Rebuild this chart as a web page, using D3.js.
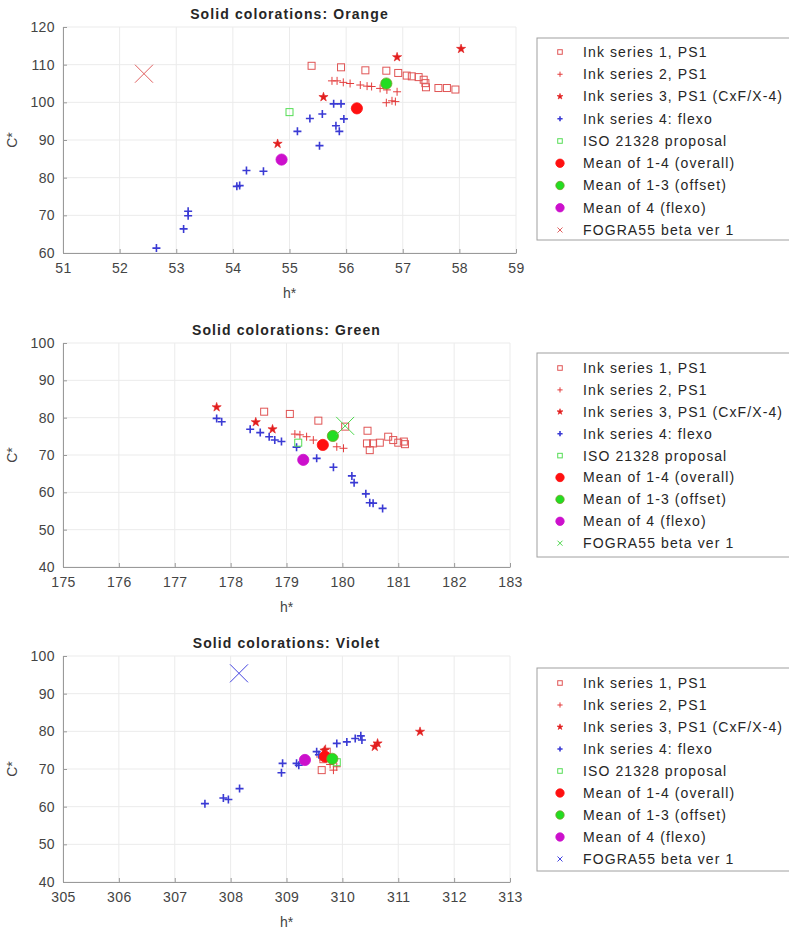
<!DOCTYPE html>
<html>
<head>
<meta charset="utf-8">
<script src="https://cdn.jsdelivr.net/npm/d3@7"></script>
<style>
  body { margin: 0; background: #fff; }
  svg { font-family: "Liberation Sans", Arial, sans-serif; }
</style>
</head>
<body>
<svg></svg>
<script>
const width = 789;
const height = 931;

// legend texts (same in all three panels)
const legendLabels = [
  "Ink series 1, PS1",
  "Ink series 2, PS1",
  "Ink series 3, PS1 (CxF/X-4)",
  "Ink series 4: flexo",
  "ISO 21328 proposal",
  "Mean of 1-4 (overall)",
  "Mean of 1-3 (offset)",
  "Mean of 4 (flexo)",
  "FOGRA55 beta ver 1"
];

// ---- Orange: [h*, C*]
const orangeTitle = "Solid colorations: Orange";
const orangeTicksX = [51, 52, 53, 54, 55, 56, 57, 58, 59];
const orangeTicksY = [60, 70, 80, 90, 100, 110, 120];
const orangeInk1 = [[55.39,109.7],[55.91,109.3],[56.34,108.5],[56.71,108.4],[56.92,107.8],[57.07,107.1],[57.16,106.9],[57.28,106.7],[57.37,106.0],[57.4,105.1],[57.41,104.0],[57.63,103.8],[57.78,103.8],[57.93,103.4]];
const orangeInk2 = [[55.75,105.7],[55.84,105.7],[55.95,105.3],[56.07,105.0],[56.25,104.6],[56.37,104.3],[56.45,104.2],[56.6,103.7],[56.72,103.3],[56.9,102.8],[56.71,99.9],[56.81,100.4],[56.87,100.2]];
const orangeInk3 = [[56.9,112.0],[58.03,114.2],[55.6,101.4],[54.79,89.0]];
const orangeInk4 = [[52.65,61.3],[53.13,66.4],[53.21,69.9],[53.21,71.1],[54.07,77.7],[54.12,77.9],[54.24,81.9],[54.54,81.7],[55.14,92.3],[55.36,95.7],[55.58,96.9],[55.53,88.5],[55.78,99.6],[55.91,99.6],[55.82,93.8],[55.88,92.3],[55.96,95.6]];
const orangeIso = [[55.0,97.4]];
const orangeMean14 = [[56.19,98.4]];
const orangeMean13 = [[56.71,105.0]];
const orangeMean4 = [[54.86,84.8]];
const orangeFogra = [[52.43,107.6]];

// ---- Green
const greenTitle = "Solid colorations: Green";
const greenTicksX = [175, 176, 177, 178, 179, 180, 181, 182, 183];
const greenTicksY = [40, 50, 60, 70, 80, 90, 100];
const greenInk1 = [[178.6,81.6],[179.06,81.0],[179.57,79.2],[180.45,76.5],[180.44,73.1],[180.49,71.3],[180.55,73.1],[180.67,73.3],[180.82,74.9],[180.91,74.0],[181.0,73.3],[181.1,73.6],[181.12,72.9],[180.05,77.6]];
const greenInk2 = [[179.15,75.6],[179.24,75.4],[179.36,74.9],[179.48,74.0],[179.9,72.2],[180.02,71.8]];
const greenInk3 = [[177.75,82.8],[178.45,78.8],[178.75,76.9]];
const greenInk4 = [[177.75,79.8],[177.84,78.9],[178.35,76.9],[178.53,76.0],[178.69,74.9],[178.79,74.0],[178.91,73.6],[179.18,72.1],[179.54,69.1],[179.84,66.7],[180.17,64.4],[180.21,62.6],[180.42,59.6],[180.49,57.2],[180.55,57.1],[180.72,55.7]];
const greenIso = [[179.21,73.3]];
const greenMean14 = [[179.65,72.7]];
const greenMean13 = [[179.83,75.1]];
const greenMean4 = [[179.3,68.7]];
const greenFogra = [[180.05,77.8]];

// ---- Violet
const violetTitle = "Solid colorations: Violet";
const violetTicksX = [305, 306, 307, 308, 309, 310, 311, 312, 313];
const violetTicksY = [40, 50, 60, 70, 80, 90, 100];
const violetInk1 = [[309.63,69.7],[309.66,72.6],[309.72,74.6]];
const violetInk2 = [[309.6,73.2],[309.7,75.4],[309.78,71.2],[309.84,69.7],[309.9,70.6]];
const violetInk3 = [[311.39,79.9],[310.63,76.8],[310.58,75.9],[309.68,74.9]];
const violetInk4 = [[307.54,60.8],[307.87,62.3],[307.96,61.9],[308.16,64.8],[308.91,69.0],[308.93,71.5],[309.18,71.5],[309.22,71.0],[309.54,74.6],[309.58,73.8],[309.9,76.8],[310.08,77.2],[310.23,78.1],[310.33,78.8],[310.35,77.7]];
const violetIso = [[309.9,71.8]];
const violetMean14 = [[309.69,73.3]];
const violetMean13 = [[309.82,72.7]];
const violetMean4 = [[309.33,72.4]];
const violetFogra = [[308.15,95.4]];

// marker styles, in legend order
const styles = [
  { type: "square", color: "#e05555" },
  { type: "plus", color: "#e33c3c" },
  { type: "star", color: "#e21e1e" },
  { type: "plus", color: "#3a3ad4", width: 1.6 },
  { type: "square", color: "#55dd55" },
  { type: "circle", color: "#ff1010", edge: "#ff1010" },
  { type: "circle", color: "#22dd22", edge: "#7b9a2a" },
  { type: "circle", color: "#cc10cc", edge: "#cc10cc" },
  { type: "cross" }
];

const panels = [
  { title: orangeTitle, ticksX: orangeTicksX, ticksY: orangeTicksY, fograColor: "#e06060",
    series: [orangeInk1, orangeInk2, orangeInk3, orangeInk4, orangeIso, orangeMean14, orangeMean13, orangeMean4, orangeFogra],
    box: { left: 63, right: 516, top: 27, bottom: 253 }, legend: { top: 38, bottom: 240, row0: 52, step: 22.25 } },
  { title: greenTitle, ticksX: greenTicksX, ticksY: greenTicksY, fograColor: "#4cd84c",
    series: [greenInk1, greenInk2, greenInk3, greenInk4, greenIso, greenMean14, greenMean13, greenMean4, greenFogra],
    box: { left: 63, right: 510, top: 343, bottom: 567 }, legend: { top: 353, bottom: 557, row0: 368, step: 21.9 } },
  { title: violetTitle, ticksX: violetTicksX, ticksY: violetTicksY, fograColor: "#4444e0",
    series: [violetInk1, violetInk2, violetInk3, violetInk4, violetIso, violetMean14, violetMean13, violetMean4, violetFogra],
    box: { left: 63, right: 510, top: 656, bottom: 882 }, legend: { top: 668, bottom: 871, row0: 683, step: 22 } }
];

const svg = d3.select("svg").attr("width", width).attr("height", height);

// draws one marker at (x,y); k scales it down for the legend
function marker(g, st, color, x, y, k) {
  if (st.type === "square") {
    const s = 7 * k;
    g.append("rect").attr("x", x - s / 2).attr("y", y - s / 2).attr("width", s).attr("height", s)
      .attr("fill", "none").attr("stroke", color).attr("stroke-width", 1);
  } else if (st.type === "plus") {
    const s = 4 * k;
    g.append("path").attr("d", `M${x - s},${y}H${x + s}M${x},${y - s}V${y + s}`)
      .attr("stroke", color).attr("stroke-width", st.width || 1).attr("fill", "none");
  } else if (st.type === "star") {
    g.append("path").attr("transform", `translate(${x},${y})`)
      .attr("d", d3.symbol(d3.symbolStar, 26 * k * k)()).attr("fill", color)
      .attr("stroke", color).attr("stroke-width", 0.6);
  } else if (st.type === "circle") {
    g.append("circle").attr("cx", x).attr("cy", y).attr("r", 5.6 * k)
      .attr("fill", color).attr("stroke", st.edge).attr("stroke-width", 0.8);
  } else if (st.type === "cross") {
    const s = k < 1 ? 2.5 : 9;
    g.append("path").attr("d", `M${x - s},${y - s}L${x + s},${y + s}M${x - s},${y + s}L${x + s},${y - s}`)
      .attr("stroke", color).attr("stroke-width", 1).attr("fill", "none");
  }
}

panels.forEach(function (p) {
  const b = p.box;
  const x = d3.scaleLinear().domain(d3.extent(p.ticksX)).range([b.left, b.right]);
  const y = d3.scaleLinear().domain(d3.extent(p.ticksY)).range([b.bottom, b.top]);
  const g = svg.append("g");

  // grid
  g.append("g").selectAll("line.gx").data(p.ticksX).enter().append("line")
    .attr("x1", (d) => x(d)).attr("x2", (d) => x(d)).attr("y1", b.top).attr("y2", b.bottom)
    .attr("stroke", "#ebebeb");
  g.append("g").selectAll("line.gy").data(p.ticksY).enter().append("line")
    .attr("x1", b.left).attr("x2", b.right).attr("y1", (d) => y(d)).attr("y2", (d) => y(d))
    .attr("stroke", "#ebebeb");

  // axes, ticks pointing inward like MATLAB
  const ax = g.append("g").attr("transform", `translate(0,${b.bottom})`)
    .call(d3.axisBottom(x).tickValues(p.ticksX).tickSizeInner(-4).tickSizeOuter(0).tickPadding(10));
  const ay = g.append("g").attr("transform", `translate(${b.left},0)`)
    .call(d3.axisLeft(y).tickValues(p.ticksY).tickSizeInner(-4).tickSizeOuter(0).tickPadding(8));
  [ax, ay].forEach(function (a) {
    a.select(".domain").attr("stroke", "#9a9a9a");
    a.selectAll(".tick line").attr("stroke", "#9a9a9a");
    a.selectAll(".tick text").attr("fill", "#444").style("font-size", "14px")
      .style("letter-spacing", "0.4px")
      .style("font-family", "'Liberation Sans', Arial, sans-serif");
  });

  // titles and axis labels
  g.append("text").attr("x", (b.left + b.right) / 2).attr("y", b.top - 8)
    .attr("text-anchor", "middle").style("font-size", "14px").style("font-weight", "bold")
    .style("letter-spacing", "1.1px").attr("fill", "#262626").text(p.title);
  g.append("text").attr("x", (b.left + b.right) / 2).attr("y", b.bottom + 45)
    .attr("text-anchor", "middle").style("font-size", "14px").attr("fill", "#444").text("h*");
  g.append("text").attr("transform", `translate(17,${(b.top + b.bottom) / 2}) rotate(-90)`)
    .attr("text-anchor", "middle").style("font-size", "14px").attr("fill", "#444").text("C*");

  // points, drawn in legend order so the means sit on top
  const pts = g.append("g");
  p.series.forEach(function (s, i) {
    const st = styles[i];
    const color = st.type === "cross" ? p.fograColor : st.color;
    s.forEach((d) => marker(pts, st, color, x(d[0]), y(d[1]), 1));
  });

  // legend
  const L = p.legend;
  const lg = g.append("g");
  lg.append("rect").attr("x", 537).attr("y", L.top).attr("width", 300).attr("height", L.bottom - L.top)
    .attr("fill", "#fff").attr("stroke", "#a0a0a0");
  legendLabels.forEach(function (t, i) {
    const st = styles[i];
    const ry = L.row0 + i * L.step;
    const color = st.type === "cross" ? p.fograColor : st.color;
    marker(lg, st, color, 560, ry, st.type === "circle" ? 0.75 : 0.65);
    lg.append("text").attr("x", 583).attr("y", ry).attr("dy", "0.35em")
      .style("font-size", "14px").style("letter-spacing", "1.1px")
      .attr("fill", "#262626").text(t);
  });
});
</script>
</body>
</html>
